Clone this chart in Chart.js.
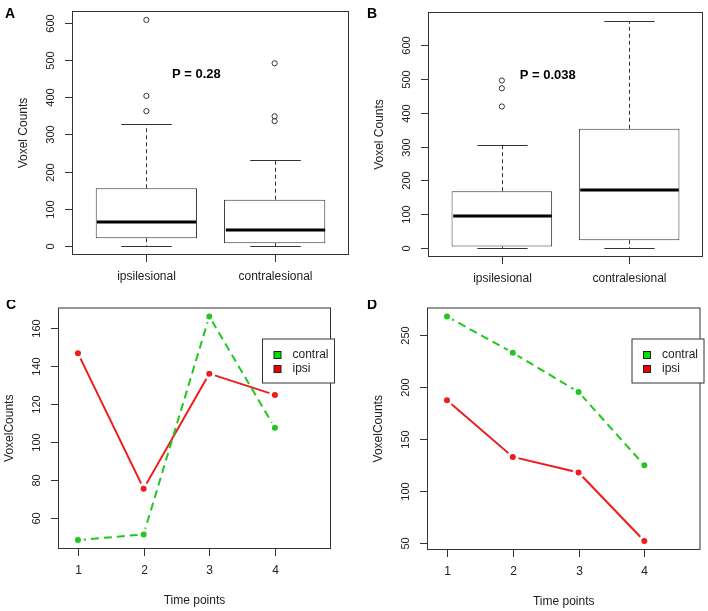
<!DOCTYPE html>
<html>
<head>
<meta charset="utf-8">
<script src="https://cdn.jsdelivr.net/npm/chart.js@4.4.0/dist/chart.umd.min.js"></script>
<style>
  body { margin: 0; background: #fff; width: 708px; height: 611px; position: relative; overflow: hidden; }
  canvas { position: absolute; }
</style>
</head>
<body>
<canvas id="chartA" width="354" height="300" style="left:0;top:0"></canvas>
<canvas id="chartB" width="354" height="300" style="left:354px;top:0"></canvas>
<canvas id="chartC" width="354" height="311" style="left:0;top:300px"></canvas>
<canvas id="chartD" width="354" height="311" style="left:354px;top:300px"></canvas>
<script>
// ---- data ----
const groups = ['ipsilesional', 'contralesional'];

// A: box plot
const aLow = [0, 0];
const aQ1 = [20, 7];
const aMed = [65, 43];
const aQ3 = [155, 124];
const aHigh = [329, 231];
const aOutliers = [[363, 404, 609], [336, 349, 492]];
const aTicks = [0, 100, 200, 300, 400, 500, 600];

// B: box plot
const bLow = [0, 0];
const bQ1 = [4, 23];
const bMed = [94, 171];
const bQ3 = [168, 353];
const bHigh = [304, 672];
const bOutliers = [[419, 473, 496], []];
const bTicks = [0, 100, 200, 300, 400, 500, 600];

// C / D: means over time
const timePoints = [1, 2, 3, 4];
const cContral = [48.1, 51.1, 166.1, 107.3];
const cIpsi = [146.6, 75.2, 135.9, 124.7];
const cTicks = [60, 80, 100, 120, 140, 160];
const dContral = [267.6, 232.7, 194.9, 124.5];
const dIpsi = [187, 132.5, 117.5, 51.6];
const dTicks = [50, 100, 150, 200, 250];

const FONT = '"Liberation Sans", Arial, sans-serif';
const INK = '#222';
const GREEN = '#1ec81e';
const RED = '#ee1c1c';

// R-style frame, ticks, axis titles and panel letter
const rAxes = {
  id: 'rAxes',
  afterDraw(chart, args, o) {
    const { ctx, chartArea: a, scales: { x, y } } = chart;
    ctx.save();
    ctx.strokeStyle = '#333';
    ctx.lineWidth = 1;
    ctx.setLineDash([]);
    ctx.strokeRect(a.left + 0.5, a.top + 0.5, a.width - 1, a.height - 1);
    ctx.fillStyle = INK;

    ctx.font = '11px ' + FONT;
    ctx.textAlign = 'center';
    ctx.textBaseline = 'middle';
    o.yTicks.forEach(v => {
      const py = Math.round(y.getPixelForValue(v)) + 0.5;
      ctx.beginPath(); ctx.moveTo(a.left - 7, py); ctx.lineTo(a.left, py); ctx.stroke();
      ctx.save();
      ctx.translate(a.left - 21, py);
      ctx.rotate(-Math.PI / 2);
      ctx.fillText(String(v), 0, 0);
      ctx.restore();
    });

    ctx.font = '12px ' + FONT;
    o.xTicks.forEach((v, i) => {
      const px = Math.round(x.getPixelForValue(v)) + 0.5;
      ctx.beginPath(); ctx.moveTo(px, a.bottom); ctx.lineTo(px, a.bottom + 7); ctx.stroke();
      ctx.fillText(o.xLabels ? o.xLabels[i] : String(v), px, a.bottom + 22);
    });

    if (o.xTitle) ctx.fillText(o.xTitle, (a.left + a.right) / 2, a.bottom + 52);
    ctx.save();
    ctx.translate(a.left - 48, (a.top + a.bottom) / 2);
    ctx.rotate(-Math.PI / 2);
    ctx.fillText(o.yTitle, 0, 0);
    ctx.restore();

    if (o.note) {
      ctx.font = 'bold 13px ' + FONT;
      ctx.fillStyle = '#000';
      ctx.fillText(o.note, x.getPixelForValue(o.noteAt[0]), y.getPixelForValue(o.noteAt[1]));
    }

    ctx.font = 'bold 14px ' + FONT;
    ctx.fillStyle = '#000';
    ctx.textAlign = 'left';
    ctx.textBaseline = 'alphabetic';
    ctx.fillText(o.letter, o.letterPos[0], o.letterPos[1]);
    ctx.restore();
  }
};

// whiskers, staples and medians on top of the floating-bar boxes
const rBox = {
  id: 'rBox',
  afterDatasetsDraw(chart, args, o) {
    if (!o.med) return;
    const { ctx, scales: { x, y } } = chart;
    const boxes = chart.getDatasetMeta(0).data;
    ctx.save();
    o.med.forEach((m, i) => {
      const cx = Math.round(x.getPixelForValue(i + 1)) + 0.5;
      const half = boxes[i].width / 2;
      const yLo = Math.round(y.getPixelForValue(o.low[i])) + 0.5;
      const yHi = Math.round(y.getPixelForValue(o.high[i])) + 0.5;
      const yQ1 = y.getPixelForValue(o.q1[i]);
      const yQ3 = y.getPixelForValue(o.q3[i]);
      ctx.strokeStyle = '#333';
      ctx.lineWidth = 1;
      ctx.setLineDash([4, 3]);
      ctx.beginPath();
      ctx.moveTo(cx, yQ3); ctx.lineTo(cx, yHi);
      ctx.moveTo(cx, yQ1); ctx.lineTo(cx, yLo);
      ctx.stroke();
      ctx.setLineDash([]);
      ctx.beginPath();
      ctx.moveTo(cx - half / 2, yHi); ctx.lineTo(cx + half / 2, yHi);
      ctx.moveTo(cx - half / 2, yLo); ctx.lineTo(cx + half / 2, yLo);
      ctx.stroke();
      ctx.strokeStyle = '#000';
      ctx.lineWidth = 3;
      const ym = Math.round(y.getPixelForValue(m));
      ctx.beginPath();
      ctx.moveTo(cx - half + 1, ym); ctx.lineTo(cx + half - 1, ym);
      ctx.stroke();
    });
    ctx.restore();
  }
};

// boxed legend like R's legend(fill=...)
const rLegend = {
  id: 'rLegend',
  afterDraw(chart, args, o) {
    if (!o.show) return;
    const { ctx, chartArea: a } = chart;
    const left = a.right - 68.5, top = a.top + 31.5;
    ctx.save();
    ctx.fillStyle = '#fff';
    ctx.strokeStyle = '#333';
    ctx.lineWidth = 1;
    ctx.fillRect(left, top, 72, 44);
    ctx.strokeRect(left, top, 72, 44);
    ctx.font = '12px ' + FONT;
    ctx.textAlign = 'left';
    ctx.textBaseline = 'middle';
    chart.data.datasets.forEach((ds, i) => {
      const cy = top + 16 + i * 14;
      ctx.fillStyle = ds.legendFill;
      ctx.fillRect(left + 11.5, cy - 3.5, 7, 7);
      ctx.strokeStyle = '#222';
      ctx.strokeRect(left + 11.5, cy - 3.5, 7, 7);
      ctx.fillStyle = INK;
      ctx.fillText(ds.label, left + 30, cy);
    });
    ctx.restore();
  }
};

const base = {
  responsive: false,
  animation: false,
  events: [],
  plugins: { legend: { display: false }, tooltip: { enabled: false } }
};

function boxChart(id, low, q1, med, q3, high, outliers, ticks, yMin, yMax, pad, extra) {
  const pos = groups.map((g, i) => i + 1);
  const outPts = [];
  outliers.forEach((list, i) => list.forEach(v => outPts.push({ x: i + 1, y: v })));
  return new Chart(document.getElementById(id), {
    type: 'bar',
    data: {
      datasets: [
        {
          data: pos.map((p, i) => ({ x: p, y: [q1[i], q3[i]] })),
          backgroundColor: '#fff',
          borderColor: '#333',
          borderWidth: 1,
          borderSkipped: false,
          barPercentage: 1,
          categoryPercentage: 0.79
        },
        {
          type: 'scatter',
          data: outPts,
          pointStyle: 'circle',
          pointRadius: 2.6,
          pointBackgroundColor: 'rgba(0,0,0,0)',
          pointBorderColor: '#333',
          pointBorderWidth: 1
        }
      ]
    },
    options: Object.assign({}, base, {
      layout: { padding: pad },
      scales: {
        x: { type: 'linear', display: false, offset: false, min: 0.42, max: 2.58,
             afterBuildTicks: s => { s.ticks = pos.map(v => ({ value: v })); } },
        y: { type: 'linear', display: false, min: yMin, max: yMax }
      },
      plugins: Object.assign({}, base.plugins, {
        rAxes: Object.assign({ yTicks: ticks, xTicks: pos, xLabels: groups, yTitle: 'Voxel Counts' }, extra),
        rBox: { low, q1, med, q3, high },
        rLegend: { show: false }
      })
    }),
    plugins: [rBox, rAxes, rLegend]
  });
}

function lineChart(id, contral, ipsi, ticks, yMin, yMax, pad, extra) {
  const pts = vals => timePoints.map((t, i) => ({ x: t, y: vals[i] }));
  return new Chart(document.getElementById(id), {
    type: 'line',
    data: {
      datasets: [
        {
          label: 'contral', legendFill: '#00e000',
          data: pts(contral),
          borderColor: GREEN, borderWidth: 2, borderDash: [8, 5],
          pointRadius: 4.5, pointBackgroundColor: GREEN,
          pointBorderColor: '#fff', pointBorderWidth: 3
        },
        {
          label: 'ipsi', legendFill: '#ee0000',
          data: pts(ipsi),
          borderColor: RED, borderWidth: 2,
          pointRadius: 4.5, pointBackgroundColor: RED,
          pointBorderColor: '#fff', pointBorderWidth: 3
        }
      ]
    },
    options: Object.assign({}, base, {
      layout: { padding: pad },
      scales: {
        x: { type: 'linear', display: false, min: 0.696, max: 4.854 },
        y: { type: 'linear', display: false, min: yMin, max: yMax }
      },
      plugins: Object.assign({}, base.plugins, {
        rAxes: Object.assign({ yTicks: ticks, xTicks: timePoints, xTitle: 'Time points', yTitle: 'VoxelCounts' }, extra),
        rBox: {},
        rLegend: { show: true }
      })
    }),
    plugins: [rAxes, rLegend]
  });
}

boxChart('chartA', aLow, aQ1, aMed, aQ3, aHigh, aOutliers, aTicks, -25, 633,
  { left: 72, top: 11, right: 5, bottom: 45 },
  { letter: 'A', letterPos: [5, 17.5], note: 'P = 0.28', noteAt: [1.39, 463] });

boxChart('chartB', bLow, bQ1, bMed, bQ3, bHigh, bOutliers, bTicks, -27, 699,
  { left: 74, top: 12, right: 4, bottom: 43 },
  { letter: 'B', letterPos: [13, 17.5], note: 'P = 0.038', noteAt: [1.36, 511] });

lineChart('chartC', cContral, cIpsi, cTicks, 43.4, 170.8,
  { left: 58, top: 5, right: 23, bottom: 62 },
  { letter: 'C', letterPos: [6, 8.5] });

lineChart('chartD', dContral, dIpsi, dTicks, 43, 276.2,
  { left: 73, top: 7, right: 6, bottom: 61 },
  { letter: 'D', letterPos: [13, 8.5] });
</script>
</body>
</html>
